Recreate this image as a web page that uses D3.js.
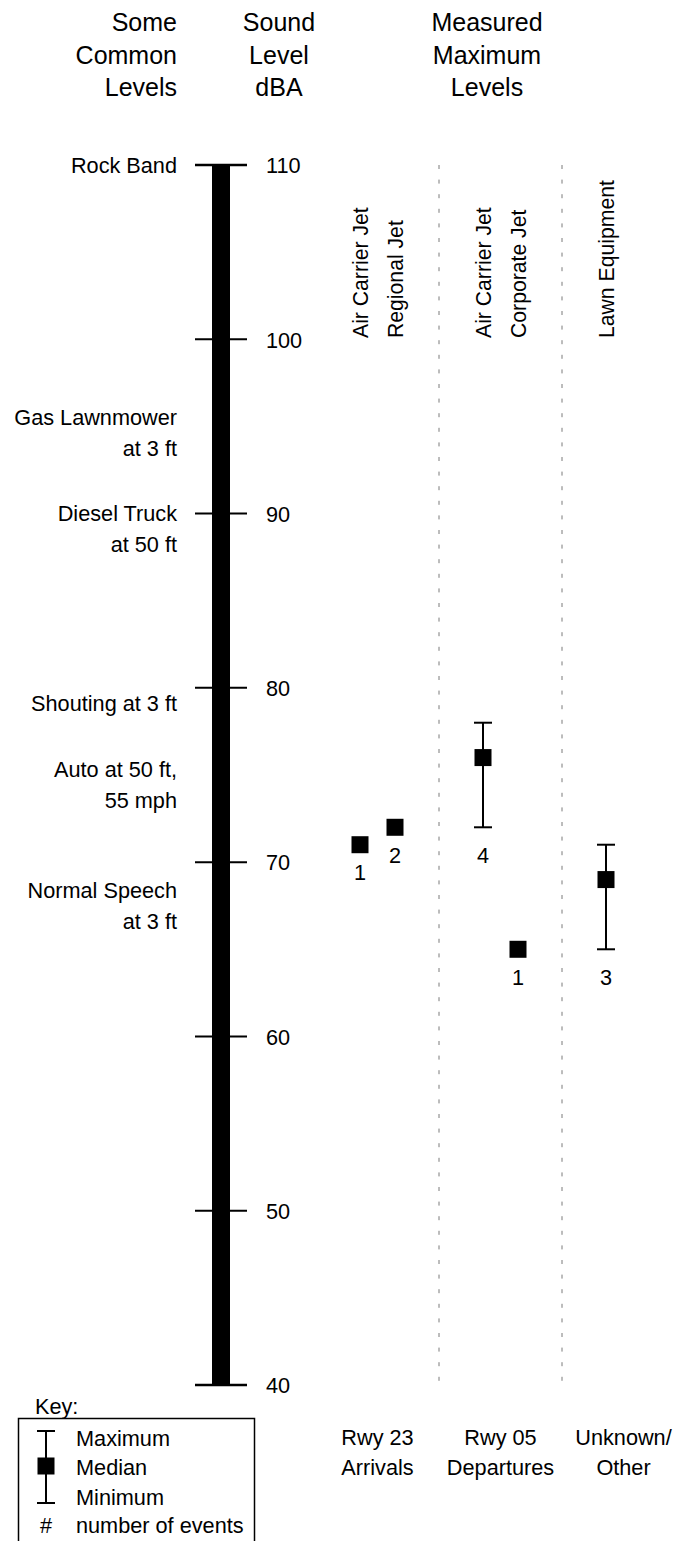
<!DOCTYPE html>
<html>
<head>
<meta charset="utf-8">
<script src="https://cdn.jsdelivr.net/npm/d3@7"></script>
<style>
  html, body { margin: 0; padding: 0; background: #fff; }
  svg { display: block; }
  text { font-family: "Liberation Sans", Arial, Helvetica, sans-serif; fill: #000; }
</style>
</head>
<body>
<svg id="chart" width="683" height="1541"></svg>
<script>
// ---------------- data ----------------
const groupLabels = [["Rwy 23", "Arrivals"], ["Rwy 05", "Departures"], ["Unknown/", "Other"]];
const sourceNames = ["Air Carrier Jet", "Regional Jet", "Air Carrier Jet", "Corporate Jet", "Lawn Equipment"];
const sourceGroup = [0, 0, 1, 1, 2];
const sourceSlot = [0, 1, 0, 1, 0];
const medianLevels = [71, 72, 76, 65, 69];
const maximumLevels = [71, 72, 78, 65, 71];
const minimumLevels = [71, 72, 72, 65, 65];
const eventCounts = [1, 2, 4, 1, 3];

const commonLabels = [["Rock Band"], ["Gas Lawnmower", "at 3 ft"], ["Diesel Truck", "at 50 ft"],
                      ["Shouting at 3 ft"], ["Auto at 50 ft,", "55 mph"], ["Normal Speech", "at 3 ft"]];
const commonLevels = [110, 95.5, 90, 79.1, 75.3, 68.4];

const tickValues = [40, 50, 60, 70, 80, 90, 100, 110];
const headerLeft = ["Some", "Common", "Levels"];
const headerMid = ["Sound", "Level", "dBA"];
const headerRight = ["Measured", "Maximum", "Levels"];
const keyLabels = ["Maximum", "Median", "Minimum", "number of events"];

// ---------------- layout ----------------
const svg = d3.select("#chart");
const FS = 21.7, HFS = 25, RFS = 21.2;
const y = d3.scaleLinear().domain([40, 110]).range([1385, 165]);
const xGroup = d3.scaleBand().domain(d3.range(groupLabels.length)).range([316, 685]).padding(0);
const xSlot = d3.scalePoint().domain([0, 1]).range([-17.5, 17.5]);
const cx = i => xGroup(sourceGroup[i]) + xGroup.bandwidth() / 2 + xSlot(sourceSlot[i]);

// headers
const lineH = 32.5;
headerLeft.forEach((t, i) => svg.append("text").attr("x", 177).attr("y", 31 + i * lineH)
  .attr("text-anchor", "end").attr("font-size", HFS).text(t));
headerMid.forEach((t, i) => svg.append("text").attr("x", 279).attr("y", 31 + i * lineH)
  .attr("text-anchor", "middle").attr("font-size", HFS).text(t));
headerRight.forEach((t, i) => svg.append("text").attr("x", 487).attr("y", 31 + i * lineH)
  .attr("text-anchor", "middle").attr("font-size", HFS).text(t));

// scale bar
const barX = 221;
svg.append("rect").attr("x", barX - 9).attr("width", 18)
  .attr("y", y(110)).attr("height", y(40) - y(110)).attr("fill", "#000");

const axis = d3.axisRight(y).tickValues(tickValues).tickSize(0).tickPadding(0).tickFormat(d3.format("d"));
const axG = svg.append("g").attr("transform", `translate(266,0)`).call(axis);
axG.select(".domain").remove();
axG.selectAll("text").attr("font-size", FS).attr("x", 0).attr("dy", "0.36em")
  .style("font-family", '"Liberation Sans", Arial, sans-serif');

svg.append("g").selectAll("line").data(tickValues).join("line")
  .attr("x1", 195).attr("x2", 247)
  .attr("y1", d => y(d)).attr("y2", d => y(d))
  .attr("stroke", "#000").attr("stroke-width", d => (d === 40 || d === 110) ? 2.5 : 2);

// common levels labels
commonLabels.forEach((lines, i) => {
  lines.forEach((t, j) => svg.append("text").attr("x", 177)
    .attr("y", y(commonLevels[i]) + 7.5 + j * 31)
    .attr("text-anchor", "end").attr("font-size", FS).text(t));
});

// group separators
const seps = d3.range(1, groupLabels.length).map(g => xGroup(g));
svg.append("g").selectAll("line").data(seps).join("line")
  .attr("x1", d => d).attr("x2", d => d).attr("y1", y(110)).attr("y2", y(40))
  .attr("stroke", "#7a7a7a").attr("stroke-width", 1).attr("stroke-dasharray", "4,10.6");

// rotated source labels
sourceNames.forEach((t, i) => {
  svg.append("text").attr("transform", `translate(${cx(i) + 8},338) rotate(-90)`)
    .attr("text-anchor", "start").attr("font-size", RFS).text(t);
});

// group labels at bottom
groupLabels.forEach((lines, g) => {
  lines.forEach((t, j) => svg.append("text")
    .attr("x", xGroup(g) + xGroup.bandwidth() / 2).attr("y", 1445 + j * 29.5)
    .attr("text-anchor", "middle").attr("font-size", FS).text(t));
});

// error bars / markers
const capW = 9, sq = 17;
sourceNames.forEach((_, i) => {
  const x = cx(i);
  if (maximumLevels[i] !== minimumLevels[i]) {
    svg.append("line").attr("x1", x).attr("x2", x).attr("y1", y(maximumLevels[i])).attr("y2", y(minimumLevels[i]))
      .attr("stroke", "#000").attr("stroke-width", 2);
    [maximumLevels[i], minimumLevels[i]].forEach(v => svg.append("line")
      .attr("x1", x - capW).attr("x2", x + capW).attr("y1", y(v)).attr("y2", y(v))
      .attr("stroke", "#000").attr("stroke-width", 2));
  }
  svg.append("rect").attr("x", x - sq / 2).attr("y", y(medianLevels[i]) - sq / 2)
    .attr("width", sq).attr("height", sq).attr("fill", "#000");
  svg.append("text").attr("x", x).attr("y", y(minimumLevels[i]) + 35.5)
    .attr("text-anchor", "middle").attr("font-size", FS).text(eventCounts[i]);
});

// key
svg.append("text").attr("x", 35).attr("y", 1414).attr("font-size", FS).text("Key:");
svg.append("rect").attr("x", 18.5).attr("y", 1418.5).attr("width", 236).attr("height", 160)
  .attr("fill", "none").attr("stroke", "#000").attr("stroke-width", 1.5);
const kx = 46;
svg.append("line").attr("x1", kx).attr("x2", kx).attr("y1", 1431).attr("y2", 1503).attr("stroke", "#000").attr("stroke-width", 2);
[1431, 1503].forEach(v => svg.append("line").attr("x1", kx - capW).attr("x2", kx + capW)
  .attr("y1", v).attr("y2", v).attr("stroke", "#000").attr("stroke-width", 2));
svg.append("rect").attr("x", kx - sq / 2).attr("y", 1466 - sq / 2).attr("width", sq).attr("height", sq).attr("fill", "#000");
svg.append("text").attr("x", kx).attr("y", 1532.5).attr("text-anchor", "middle").attr("font-size", FS).text("#");
keyLabels.forEach((t, i) => svg.append("text").attr("x", 76).attr("y", [1445.5, 1474.5, 1504.5, 1532.5][i])
  .attr("font-size", FS).text(t));
</script>
</body>
</html>
